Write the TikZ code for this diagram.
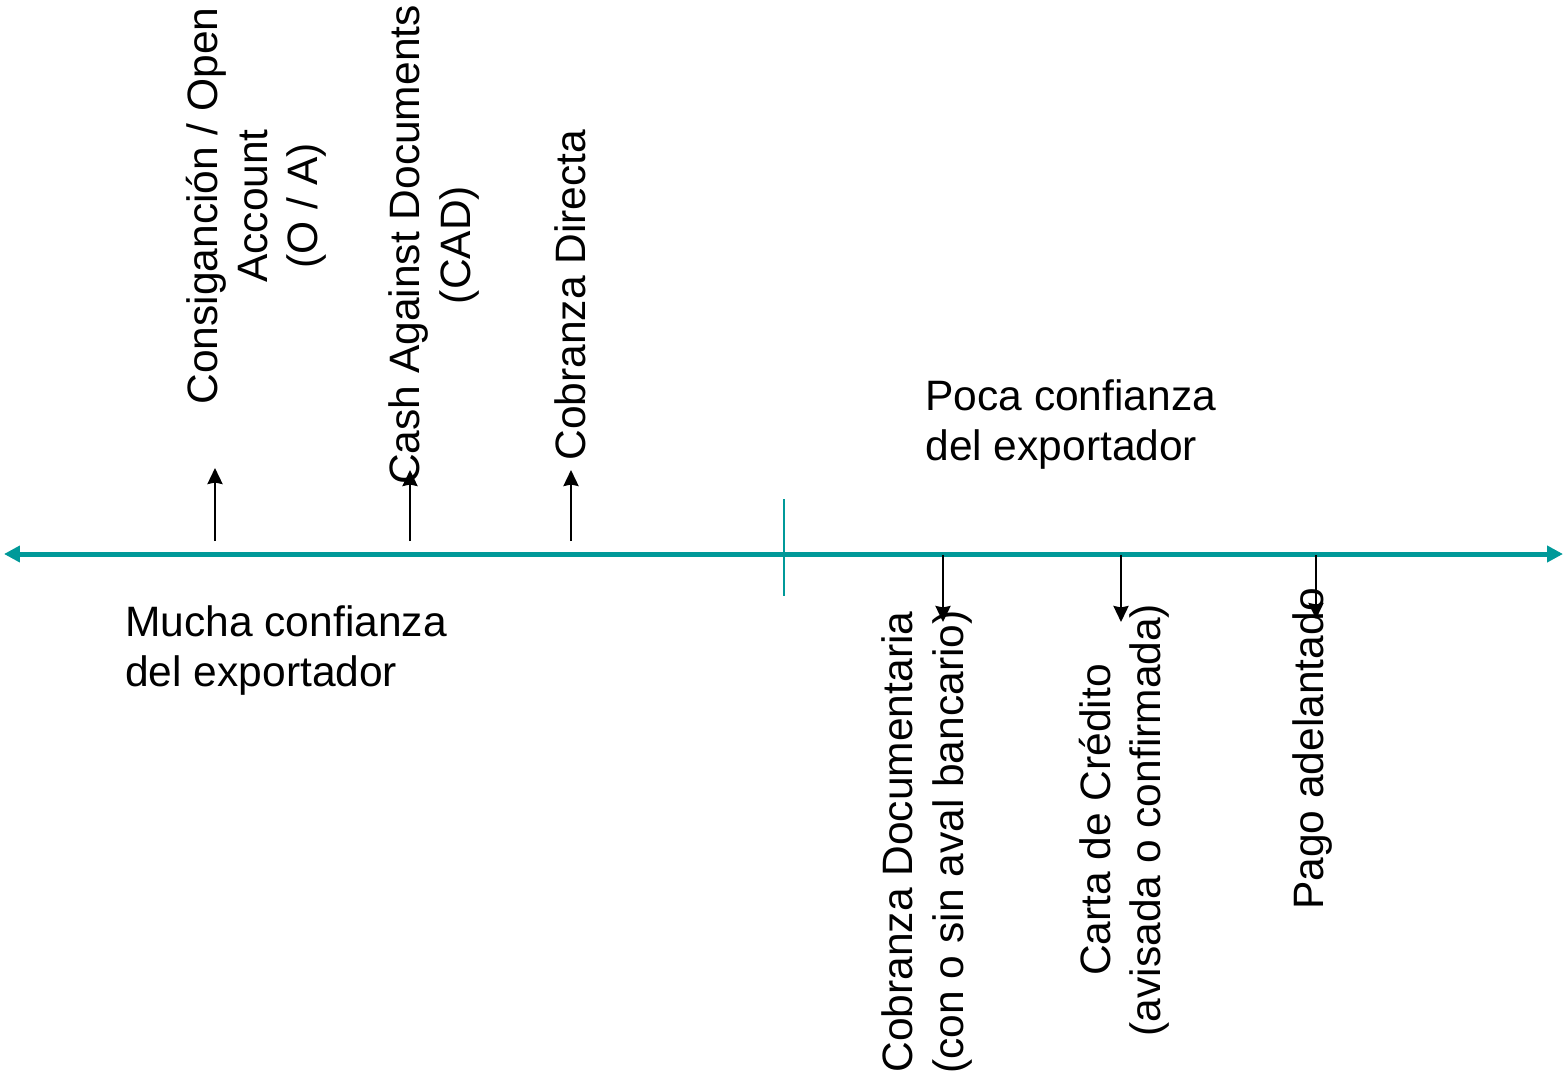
\documentclass[tikz,border=0pt]{standalone}
\usepackage{fontspec}
\setmainfont{Liberation Sans}
\usetikzlibrary{arrows.meta}
\definecolor{axisteal}{RGB}{0,153,153}

\begin{document}
\begin{tikzpicture}[x=0.02cm, y=-0.02cm, >={Stealth[length=0.32cm,width=0.3cm,inset=0.03cm]},
        lbl/.style={font=\fontsize{24.2}{28.5}\selectfont, inner sep=0pt},
        vlbl/.style={lbl, rotate=90, align=center},
        axis/.style={axisteal, line width=0.1cm},
        pointer/.style={black, line width=0.052cm}]

        \useasboundingbox (0,0) rectangle (1564,1081);

        % Confidence axis
        \coordinate (axL) at (4,554);
        \coordinate (axR) at (1563,554);
        \draw[axis, {Triangle[length=0.32cm,width=0.32cm]}-{Triangle[length=0.32cm,width=0.32cm]}] (axL) -- (axR);

        % Split mark
        \coordinate (splitT) at (784,499);
        \coordinate (splitB) at (784,596);
        \draw[axisteal, line width=0.055cm] (splitT) -- (splitB);

        % Regions
        \node[lbl, anchor=north west, align=left] (mucha) at (125,605) {Mucha confianza\\del exportador};
        \node[lbl, anchor=north west, align=left] (poca) at (925,379) {Poca confianza\\del exportador};

        % Methods above the axis
        \node[vlbl] (OA) at (256,206) {Consiganción / Open\\Account\\(O / A)};
        \node[vlbl] (CAD) at (434,245) {Cash Against Documents\\(CAD)};
        \node[vlbl] (CD) at (570,295) {Cobranza Directa};

        % Methods below the axis
        \node[vlbl] (CDoc) at (927,842) {Cobranza Documentaria\\(con o sin aval bancario)};
        \node[vlbl] (CC) at (1124,820) {Carta de Crédito\\(avisada o confirmada)};
        \node[vlbl] (PA) at (1312,749) {Pago adelantado};

        % Arrows from the axis
        \coordinate (OAs) at (215,541);
        \coordinate (OAe) at (215,468);
        \coordinate (CADs) at (410,541);
        \coordinate (CADe) at (410,470);
        \coordinate (CDs) at (571,541);
        \coordinate (CDe) at (571,470);
        \coordinate (CDocs) at (943,555);
        \coordinate (CDoce) at (943,622);
        \coordinate (CCs) at (1121,555);
        \coordinate (CCe) at (1121,622);
        \coordinate (PAs) at (1316,555);
        \coordinate (PAe) at (1316,619);

        \draw[pointer, ->] (OAs) -- (OAe);
        \draw[pointer, ->] (CADs) -- (CADe);
        \draw[pointer, ->] (CDs) -- (CDe);
        \draw[pointer, ->] (CDocs) -- (CDoce);
        \draw[pointer, ->] (CCs) -- (CCe);
        \draw[pointer, ->] (PAs) -- (PAe);

\end{tikzpicture}
\end{document}
